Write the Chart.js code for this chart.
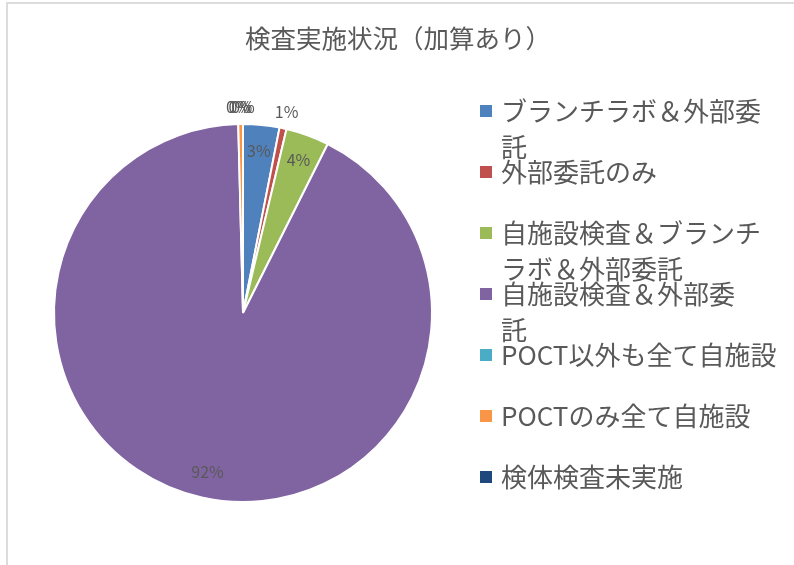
<!DOCTYPE html>
<html lang="ja">
<head>
<meta charset="utf-8">
<script src="https://cdn.jsdelivr.net/npm/chart.js@4.4.0/dist/chart.umd.min.js"></script>
<style>
  html, body { margin: 0; padding: 0; background: #fff; }
  #wrap { width: 794px; height: 565px; position: relative; }
</style>
</head>
<body>
<div id="wrap"><canvas id="myChart" width="794" height="565"></canvas></div>
<script>
// data (percent of facilities)
const title = '検査実施状況（加算あり）';
const categories = [
    'ブランチラボ＆外部委\n託',
    '外部委託のみ',
    '自施設検査＆ブランチ\nラボ＆外部委託',
    '自施設検査＆外部委\n託',
    'POCT以外も全て自施設',
    'POCTのみ全て自施設',
    '検体検査未実施'
];
const shares = [3.1, 0.6, 3.7, 92.2, 0, 0.4, 0];

const colors = ['#4F81BD', '#C0504D', '#9BBB59', '#8064A2', '#4BACC6', '#F79646', '#1F497D'];
const textColor = '#595959';
const fontFamily = '"Noto Sans CJK JP", "Noto Sans", sans-serif';

// title, wrapped legend, percent labels, frame
const decor = {
    id: 'decor',
    beforeDraw(chart) {
        const ctx = chart.ctx;
        ctx.save();
        ctx.fillStyle = '#fff';
        ctx.fillRect(0, 0, chart.width, chart.height);
        ctx.strokeStyle = '#dcdcdc';
        ctx.lineWidth = 2;
        ctx.strokeRect(7, 3, chart.width, chart.height);
        ctx.restore();
    },
    afterDraw(chart) {
        const ctx = chart.ctx;
        ctx.save();
        ctx.fillStyle = textColor;
        ctx.font = '25.5px ' + fontFamily;
        ctx.textAlign = 'center';
        ctx.textBaseline = 'middle';
        ctx.fillText(title, 398, 38);

        ctx.textAlign = 'left';
        ctx.font = '26px ' + fontFamily;
        chart.data.labels.forEach((lab, i) => {
            const y = 111 + i * 61;
            ctx.fillStyle = colors[i];
            ctx.fillRect(480, y - 6, 12, 12);
            ctx.fillStyle = textColor;
            lab.split('\n').forEach((line, j) => ctx.fillText(line, 501, y + j * 36));
        });

        const meta = chart.getDatasetMeta(0);
        const vals = chart.data.datasets[0].data;
        const total = vals.reduce((a, b) => a + b, 0);
        ctx.font = '16px ' + fontFamily;
        ctx.textAlign = 'center';
        ctx.fillStyle = textColor;
        meta.data.forEach((arc, i) => {
            const p = arc.getProps(['x', 'y', 'startAngle', 'endAngle', 'outerRadius']);
            const pct = Math.round(vals[i] / total * 100);
            const mid = (p.startAngle + p.endAngle) / 2;
            const r = pct >= 2 ? p.outerRadius * 0.86 : p.outerRadius * 1.09;
            ctx.fillText(pct + '%', p.x + Math.cos(mid) * r, p.y + Math.sin(mid) * r);
        });
        ctx.restore();
    }
};

const config = {
    type: 'pie',
    data: {
        labels: categories,
        datasets: [{
            data: shares,
            backgroundColor: colors,
            borderColor: '#fff',
            borderWidth: 2
        }]
    },
    options: {
        responsive: false,
        animation: false,
        layout: { padding: { left: 53, top: 123, right: 361, bottom: 62 } },
        plugins: {
            legend: { display: false },
            title: { display: false },
            tooltip: { enabled: false }
        }
    },
    plugins: [decor]
};

const myChart = new Chart(document.getElementById('myChart'), config);
</script>
</body>
</html>
